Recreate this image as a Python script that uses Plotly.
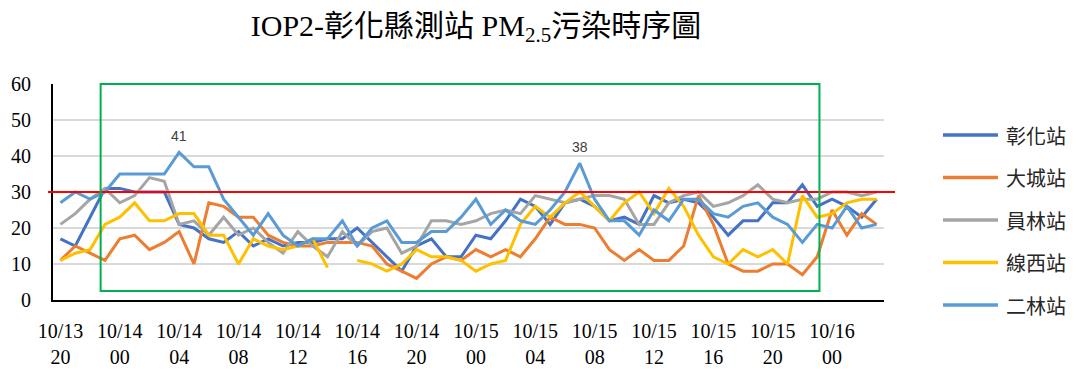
import plotly.graph_objects as go

# Hourly timeline: 10/13 20:00 through 10/16 03:00
hours = []
for k in range(56):
    h = 20 + k
    hours.append(f"10/{13 + h // 24} {h % 24:02d}")

tick_hours = hours[::4]
tick_labels = [t.replace(" ", "<br>") for t in tick_hours]

# PM2.5 (μg/m3) hourly readings per station
changhua = [17, 15, 23, 31, 31, 30, 30, 30, 21, 20, 17, 16, 19, 15, 17, 15,
            16, 16, 17, 17, 20, 16, 12, 8, 15, 17, 12, 12, 18, 17, 22, 28,
            26, 21, 27, 28, 26, 22, 23, 21, 29, 27, 28, 27, 23, 18, 22, 22,
            27, 27, 32, 26, 28, 26, 23, 28]
dacheng = [11, 15, 13, 11, 17, 18, 14, 16, 19, 10, 27, 26, 23, 23, 18, 16,
           15, 15, 16, 16, 16, 15, 10, 8, 6, 10, 12, 11, 14, 12, 14, 12,
           17, 23, 21, 21, 20, 14, 11, 14, 11, 11, 15, 29, 21, 10, 8, 8,
           10, 10, 7, 12, 25, 18, 24, 21]
yuanlin = [21, 24, 28, 31, 27, 29, 34, 33, 21, 22, 18, 23, 18, 20, 16, 13,
           19, 15, 12, 19, 15, 19, 20, 13, 15, 22, 22, 21, 22, 24, 25, 24,
           29, 28, 27, 28, 29, 29, 28, 21, 21, 27, 29, 30, 26, 27, 29, 32,
           28, 27, 28, 28, 30, 30, 29, 30]
xianxi = [11, 13, 14, 21, 23, 27, 22, 22, 24, 24, 18, 18, 10, 17, 15, 14,
          15, 17, 9, None, 11, 10, 8, 10, 14, 12, 12, 11, 8, 10, 11, 21,
          26, 23, 27, 30, 26, 22, 27, 30, 24, 31, 26, 18, 12, 10, 14, 12,
          14, 10, 29, 23, 24, 27, 28, 28]
erlin = [27, 30, 28, 30, 35, 35, 35, 35, 41, 37, 37, 28, 23, 18, 24, 18,
         15, 17, 17, 22, 15, 20, 22, 16, 16, 19, 19, 23, 28, 21, 25, 22,
         21, 25, 30, 38, 28, 22, 22, 18, 25, 22, 28, 28, 24, 23, 26, 27,
         23, 21, 16, 21, 20, 26, 20, 21]

series = [
    ("彰化站", changhua, "#4472C4"),
    ("大城站", dacheng, "#ED7D31"),
    ("員林站", yuanlin, "#A5A5A5"),
    ("線西站", xianxi, "#FFC000"),
    ("二林站", erlin, "#5B9BD5"),
]

# Erlin readings that carry a value label
erlin_labelled = [8, 35]

pm25_standard = 30

SERIF = "Liberation Serif, Noto Sans CJK TC, serif"
CJK = "Noto Sans CJK TC, sans-serif"

fig = go.Figure()
for name, vals, color in series:
    fig.add_trace(go.Scatter(
        x=hours, y=vals, name=name, mode="lines",
        line=dict(color=color, width=3),
        connectgaps=False, showlegend=False,
    ))

for i in erlin_labelled:
    fig.add_annotation(
        x=hours[i], y=erlin[i], text=str(erlin[i]), showarrow=False,
        yanchor="bottom", yshift=6,
        font=dict(family="Liberation Sans, Arial", size=14, color="#404040"),
    )

# Plot box in pixels (for paper conversions)
L, R, T, B = 53, 884, 84, 300
W_PLOT, H_PLOT = R - L, B - T


def px_x(p):
    return (p - L) / W_PLOT


def px_y(p):
    return (B - p) / H_PLOT


shapes = []
# 30 μg/m3 standard line
shapes.append(dict(type="line", xref="paper", yref="y",
                   x0=px_x(48), x1=px_x(895), y0=pm25_standard, y1=pm25_standard,
                   line=dict(color="#FF0000", width=2)))
# IOP window
shapes.append(dict(type="rect", xref="x", yref="paper",
                   x0=2.71, x1=51.15, y0=2.5 / 60, y1=1.0,
                   line=dict(color="#00B050", width=2), fillcolor="rgba(0,0,0,0)"))

# Legend drawn as line samples + labels
for k, (name, vals, color) in enumerate(series):
    yy = px_y(135 + 42.5 * k)
    shapes.append(dict(type="line", xref="paper", yref="paper",
                       x0=px_x(943), x1=px_x(998), y0=yy, y1=yy,
                       line=dict(color=color, width=3.5)))
    fig.add_annotation(xref="paper", yref="paper", x=px_x(1004), y=yy,
                       text=name, showarrow=False, xanchor="left", yanchor="middle",
                       font=dict(family=CJK, size=20, color="#262626"))

fig.update_layout(
    width=1079, height=372,
    margin=dict(l=L, r=1079 - R, t=T, b=372 - B),
    paper_bgcolor="white", plot_bgcolor="white",
    shapes=shapes,
    showlegend=False,
    title=dict(
        text="IOP2-彰化縣測站 PM<sub>2.5</sub>污染時序圖",
        x=476 / 1079, xanchor="center",
        y=1 - 25 / 372, yanchor="middle", yref="container",
        font=dict(family=SERIF, size=30, color="#000000"),
    ),
    xaxis=dict(
        type="category", range=[-0.5, 55.5], automargin=False,
        tickmode="array", tickvals=tick_hours, ticktext=tick_labels,
        showgrid=False, showline=True, linecolor="#000000", linewidth=2,
        ticks="", tickangle=0, ticklabelstandoff=12,
        tickfont=dict(family=SERIF, size=20, color="#000000"),
        zeroline=False,
    ),
    yaxis=dict(
        range=[0, 60], dtick=10, automargin=False,
        showgrid=True, gridcolor="#D9D9D9", gridwidth=1.5,
        showline=True, linecolor="#000000", linewidth=2,
        ticks="", ticklabelstandoff=16,
        tickfont=dict(family=SERIF, size=20, color="#000000"),
        zeroline=False,
    ),
)

fig.write_html("out.html")
